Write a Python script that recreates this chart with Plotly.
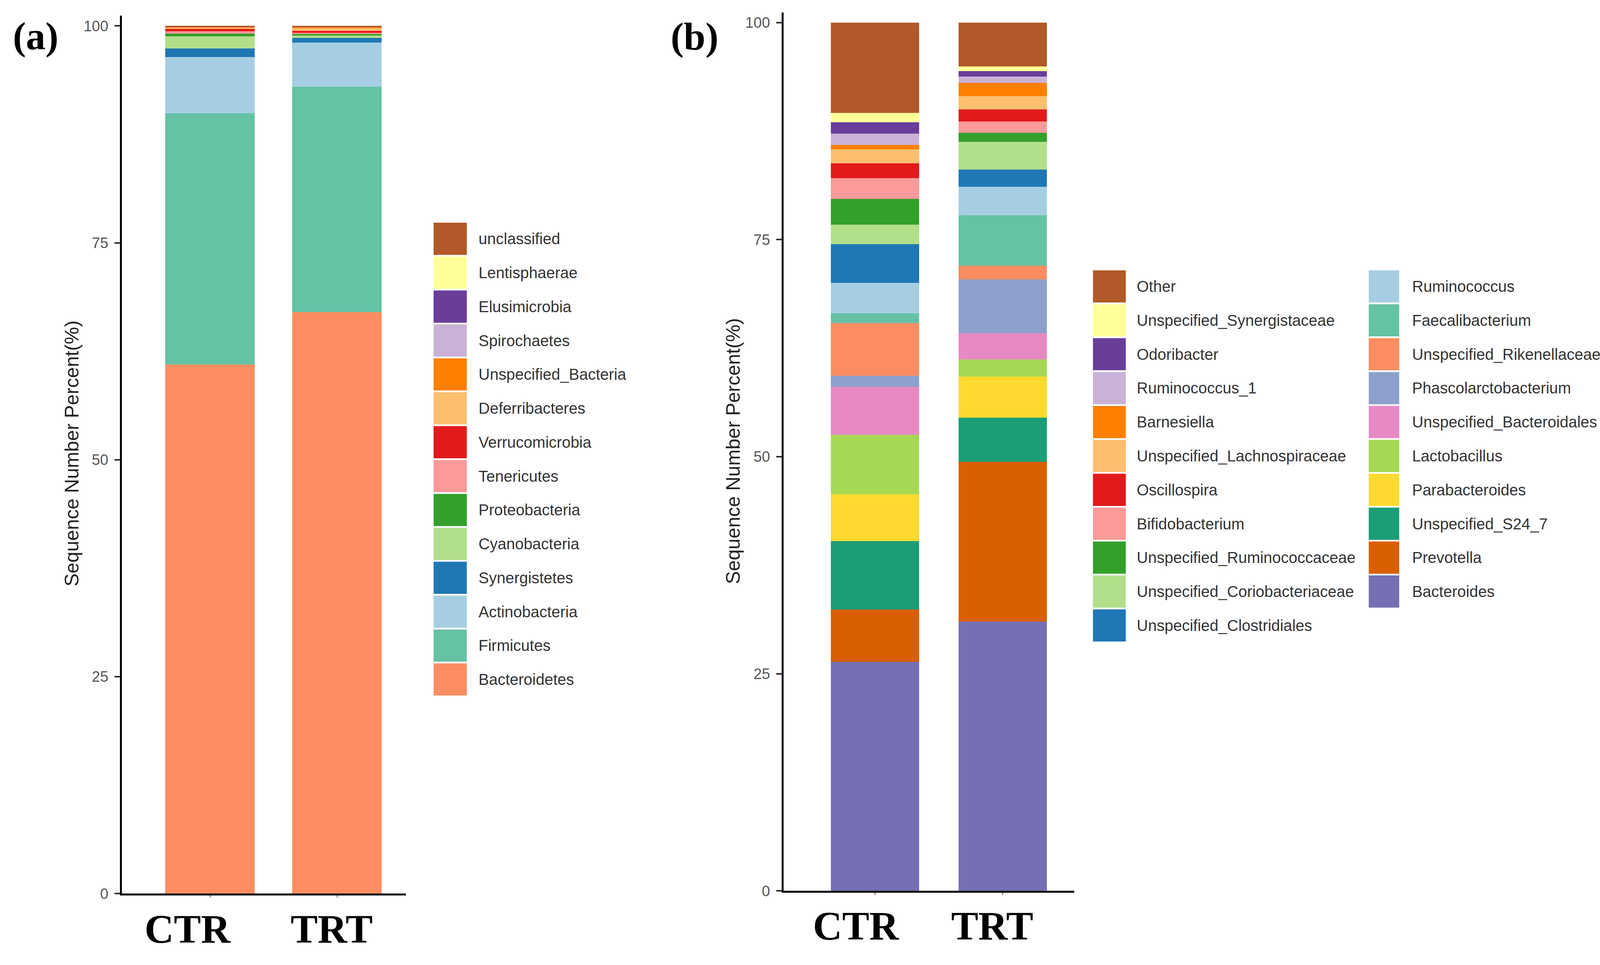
import plotly.graph_objects as go

W, H = 4128, 2470

groups = ["CTR", "TRT"]

# (a) phylum level, listed from the bottom of the stack to the top
phyla = ["Bacteroidetes", "Firmicutes", "Actinobacteria", "Synergistetes", "Cyanobacteria",
         "Proteobacteria", "Tenericutes", "Verrucomicrobia", "Deferribacteres",
         "Unspecified_Bacteria", "Spirochaetes", "Elusimicrobia", "Lentisphaerae", "unclassified"]
phyla_ctr = [61.0, 28.95, 6.45, 1.0, 1.4, 0.32, 0.27, 0.25, 0.16, 0.1, 0.03, 0.02, 0.02, 0.03]
phyla_trt = [67.0, 26.0, 5.08, 0.52, 0.3, 0.22, 0.08, 0.25, 0.3, 0.15, 0.03, 0.02, 0.02, 0.03]
phyla_colors = ["#fc8d62", "#66c2a5", "#a6cee3", "#1f78b4", "#b2df8a", "#33a02c", "#fb9a99",
                "#e31a1c", "#fdbf6f", "#ff7f00", "#cab2d6", "#6a3d9a", "#ffff99", "#b15928"]

# (b) genus level, bottom of the stack to the top
genera = ["Bacteroides", "Prevotella", "Unspecified_S24_7", "Parabacteroides", "Lactobacillus",
          "Unspecified_Bacteroidales", "Phascolarctobacterium", "Unspecified_Rikenellaceae",
          "Faecalibacterium", "Ruminococcus", "Unspecified_Clostridiales",
          "Unspecified_Coriobacteriaceae", "Unspecified_Ruminococcaceae", "Bifidobacterium",
          "Oscillospira", "Unspecified_Lachnospiraceae", "Barnesiella", "Ruminococcus_1",
          "Odoribacter", "Unspecified_Synergistaceae", "Other"]
genera_ctr = [26.4, 6.0, 7.9, 5.4, 6.8, 5.57, 1.23, 6.1, 1.1, 3.5, 4.45,
              2.25, 3.0, 2.36, 1.74, 1.6, 0.5, 1.3, 1.3, 1.1, 10.4]
genera_trt = [31.0, 18.4, 5.1, 4.7, 2.0, 3.0, 6.2, 1.6, 5.8, 3.27, 1.99,
              3.19, 1.05, 1.3, 1.4, 1.5, 1.56, 0.7, 0.64, 0.55, 5.05]
genera_colors = ["#7570b3", "#d95f02", "#1b9e77", "#ffd92f", "#a6d854", "#e78ac3", "#8da0cb",
                 "#fc8d62", "#66c2a5", "#a6cee3", "#1f78b4", "#b2df8a", "#33a02c", "#fb9a99",
                 "#e31a1c", "#fdbf6f", "#ff7f00", "#cab2d6", "#6a3d9a", "#ffff99", "#b15928"]

y_ticks = [0, 25, 50, 75, 100]

SANS = "Liberation Sans, Arial, sans-serif"
SERIF = "Liberation Serif, Times New Roman, serif"


def fx(px):
    return px / W


def fy(py):
    return 1 - py / H


fig = go.Figure()

for name, c, t, col in zip(phyla, phyla_ctr, phyla_trt, phyla_colors):
    fig.add_trace(go.Bar(x=groups, y=[c, t], name=name, marker_color=col,
                         marker_line_width=0, width=0.705, showlegend=False,
                         xaxis="x", yaxis="y"))

for name, c, t, col in zip(genera, genera_ctr, genera_trt, genera_colors):
    fig.add_trace(go.Bar(x=groups, y=[c, t], name=name, marker_color=col,
                         marker_line_width=0, width=0.69, showlegend=False,
                         xaxis="x2", yaxis="y2"))

xcommon = dict(showline=True, linewidth=5, linecolor="black", ticks="outside", ticklen=6,
               tickwidth=2, tickcolor="#666", showgrid=False, zeroline=False,
               showticklabels=False)
ycommon = dict(showline=True, linewidth=5, linecolor="black", ticks="outside", ticklen=14,
               tickwidth=4, tickcolor="#333", showgrid=False, zeroline=False,
               tickvals=y_ticks, ticklabelstandoff=8,
               tickfont=dict(family=SANS, size=38, color="#555555"))

fig.update_layout(
    width=W, height=H, margin=dict(l=0, r=0, t=0, b=0),
    paper_bgcolor="white", plot_bgcolor="white", barmode="stack",
    xaxis=dict(domain=[fx(312), fx(1039)], range=[-0.694, 1.543], anchor="y", **xcommon),
    yaxis=dict(domain=[fy(2307), fy(40)], range=[0, 101.2], anchor="x", **ycommon),
    xaxis2=dict(domain=[fx(2006), fx(2750)], range=[-0.716, 1.56], anchor="y2", **xcommon),
    yaxis2=dict(domain=[fy(2300), fy(32)], range=[0, 101.16], anchor="x2", **ycommon),
)

annotations = []
shapes = []

# panel letters
for txt, xc, yc in [("(a)", 91, 93), ("(b)", 1778, 94)]:
    annotations.append(dict(text=txt, x=fx(xc), y=fy(yc), xref="paper", yref="paper",
                            xanchor="center", yanchor="middle", showarrow=False,
                            font=dict(family=SERIF, size=100, color="black", weight="bold")))

# y-axis titles
for xc, yc in [(184, 1171), (1877, 1165)]:
    annotations.append(dict(text="Sequence Number Percent(%)", x=fx(xc), y=fy(yc),
                            xref="paper", yref="paper", xanchor="center", yanchor="middle",
                            showarrow=False, textangle=-90,
                            font=dict(family=SANS, size=50, color="#222")))

# group labels under the bars (placed slightly left of the bar centres, as in the figure)
label_rows = [("x", 2398, [-57, -14]), ("x2", 2390, [-49, -27])]
for xref, yc, shifts in label_rows:
    for g, sh in zip(groups, shifts):
        annotations.append(dict(text=g, x=g, xref=xref, y=fy(yc), yref="paper",
                                xshift=sh, xanchor="center", yanchor="middle",
                                showarrow=False,
                                font=dict(family=SERIF, size=104, color="black",
                                          weight="bold")))


def add_legend(names, colors, sw_x0, sw_x1, text_x, top, step=87.5, sw_h=83):
    for i, (name, col) in enumerate(zip(names, colors)):
        y0 = top + i * step
        shapes.append(dict(type="rect", xref="paper", yref="paper",
                           x0=fx(sw_x0), x1=fx(sw_x1), y0=fy(y0 + sw_h), y1=fy(y0),
                           fillcolor=col, line=dict(width=0)))
        annotations.append(dict(text=name, x=fx(text_x), y=fy(y0 + sw_h / 2),
                                xref="paper", yref="paper", xanchor="left", yanchor="middle",
                                showarrow=False, font=dict(family=SANS, size=40, color="#333")))


# legend (a): top of the stack first
add_legend(phyla[::-1], phyla_colors[::-1], 1110, 1195, 1223, 575)

# legend (b): two columns
gen_rev = genera[::-1]
col_rev = genera_colors[::-1]
add_legend(gen_rev[:11], col_rev[:11], 2798, 2882, 2908, 698, step=87.5)
add_legend(gen_rev[11:], col_rev[11:], 3504, 3582, 3613, 698, step=87.5)

fig.update_layout(annotations=annotations, shapes=shapes)

fig.write_html("out.html", config={"displayModeBar": False},
               post_script="document.body.style.margin='0';")
